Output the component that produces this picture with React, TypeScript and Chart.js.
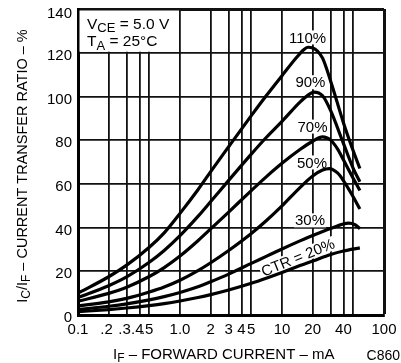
import React, { useEffect, useRef } from "react";
import { Chart, registerables } from "chart.js";

Chart.register(...registerables);

const FONT = '"Liberation Sans", Arial, Helvetica, sans-serif';

// Forward-current grid lines (mA) and the printed tick labels
const xGridValues = [0.1, 0.2, 0.3, 0.4, 0.5, 1, 2, 3, 4, 5, 10, 20, 30, 40, 50, 100];
const xTickValues = [0.1, 0.2, 0.3, 0.4, 0.5, 1, 2, 3, 4, 5, 10, 20, 40, 100];
const xTickLabels = ["0.1", ".2", ".3", ".4", ".5", "1.0", "2", "3", "4", "5", "10", "20", "40", "100"];
const yTickValues = [0, 20, 40, 60, 80, 100, 120, 140];

// Current transfer ratio (%) versus forward current (mA), one curve per CTR rank
const ctr110Current = [0.1, 0.2, 0.3, 0.5, 0.7, 1, 1.5, 2, 3, 5, 7, 10, 14, 16, 18, 20, 22, 25, 30, 40, 50, 58];
const ctr110Ratio = [10, 17.5, 22.8, 31, 37.6, 46.5, 57.3, 65.6, 77, 91.2, 100.3, 109.5, 118, 121, 122.5, 122.2, 121, 117.5, 107, 88, 75, 67];

const ctr90Current = [0.1, 0.2, 0.3, 0.5, 0.7, 1, 1.5, 2, 3, 5, 7, 10, 15, 18, 20.5, 25, 30, 40, 50, 58];
const ctr90Ratio = [8, 13.4, 17.4, 24.1, 29.5, 36.3, 45.1, 51.9, 61.6, 73.6, 81.2, 88.6, 97.4, 100.6, 102, 100.3, 93.5, 78.5, 67, 61];

const ctr70Current = [0.1, 0.2, 0.3, 0.5, 0.7, 1, 1.5, 2, 3, 5, 7, 10, 15, 20, 25, 30, 35, 40, 50, 58];
const ctr70Ratio = [6.3, 9.9, 12.7, 17.6, 21.7, 27, 34, 39.4, 47.1, 56.9, 63.2, 69.4, 75.7, 79.5, 81.5, 80, 76, 71, 62.5, 57];

const ctr50Current = [0.1, 0.2, 0.3, 0.5, 0.7, 1, 1.5, 2, 3, 5, 7, 10, 15, 20, 25, 29, 35, 40, 50, 58];
const ctr50Ratio = [4.2, 6, 7.6, 10.5, 12.8, 15.9, 20.3, 23.9, 29.5, 37.3, 43.1, 49.9, 58.3, 63.6, 66.3, 67, 65, 61.5, 54, 48.5];

const ctr30Current = [0.1, 0.2, 0.3, 0.5, 0.7, 1, 1.5, 2, 3, 5, 7, 10, 15, 20, 30, 45, 52, 58];
const ctr30Ratio = [2.5, 4, 5.1, 6.9, 8.4, 10.3, 12.9, 15.2, 18.7, 23.6, 26.8, 30.2, 33.9, 36.4, 39.6, 42, 41.3, 39.5];

const ctr20Current = [0.1, 0.2, 0.3, 0.5, 0.7, 1, 1.5, 2, 3, 5, 7, 10, 15, 20, 30, 40, 58];
const ctr20Ratio = [1.5, 2.5, 3.2, 4.3, 5.2, 6.4, 8, 9.3, 11.4, 14.5, 16.8, 19.4, 22.6, 24.7, 27.7, 29.3, 30.7];

// Curve captions and where they sit (mA, %)
const curveNames = ["110%", "90%", "70%", "50%", "30%", "CTR = 20%"];
const captionCurrent = [17.8, 19, 19.9, 19.7, 18.8, 14.3];
const captionRatio = [127, 106.5, 86.2, 69.8, 43.3, 26.4];
const captionAngle = [0, 0, 0, 0, 0, -22];

type Part = { t: string; sub?: boolean };

function partsWidth(ctx: CanvasRenderingContext2D, parts: Part[], size: number, subSize: number) {
  let w = 0;
  for (const p of parts) {
    ctx.font = `${p.sub ? subSize : size}px ${FONT}`;
    w += ctx.measureText(p.t).width;
  }
  return w;
}

function drawParts(
  ctx: CanvasRenderingContext2D,
  parts: Part[],
  x: number,
  y: number,
  size: number,
  subSize: number,
  subDy: number
) {
  ctx.textAlign = "left";
  ctx.textBaseline = "alphabetic";
  let cx = x;
  for (const p of parts) {
    ctx.font = `${p.sub ? subSize : size}px ${FONT}`;
    ctx.fillText(p.t, cx, y + (p.sub ? subDy : 0));
    cx += ctx.measureText(p.t).width;
  }
}

const annotations = {
  id: "annotations",
  beforeDatasetsDraw(chart: any) {
    const ctx: CanvasRenderingContext2D = chart.ctx;
    const { left, top } = chart.chartArea;
    const xs = chart.scales.x;
    const ys = chart.scales.y;
    ctx.save();

    // Test-conditions box in the upper-left cell
    const bx = xs.getPixelForValue(1);
    const by = ys.getPixelForValue(120);
    ctx.fillStyle = "#fff";
    ctx.fillRect(left + 1.5, top + 1.5, bx - left - 2.5, by - top - 2.5);
    ctx.fillStyle = "#000";
    drawParts(ctx, [{ t: "V" }, { t: "CE", sub: true }, { t: " = 5.0 V" }], left + 9, top + 20, 15.5, 13, 3);
    drawParts(ctx, [{ t: "T" }, { t: "A", sub: true }, { t: " = 25°C" }], left + 9, top + 37, 15.5, 13, 4);

    // Curve captions on white patches
    ctx.font = `15px ${FONT}`;
    ctx.textAlign = "center";
    ctx.textBaseline = "middle";
    curveNames.forEach((name, i) => {
      const px = xs.getPixelForValue(captionCurrent[i]);
      const py = ys.getPixelForValue(captionRatio[i]);
      const w = ctx.measureText(name).width;
      ctx.save();
      ctx.translate(px, py);
      ctx.rotate((captionAngle[i] * Math.PI) / 180);
      ctx.fillStyle = "#fff";
      ctx.fillRect(-w / 2 - 1, -7, w + 2, 14);
      ctx.fillStyle = "#000";
      ctx.fillText(name, 0, 1);
      ctx.restore();
    });
    ctx.restore();
  },
  afterDraw(chart: any) {
    const ctx: CanvasRenderingContext2D = chart.ctx;
    const { left, bottom } = chart.chartArea;
    const xs = chart.scales.x;
    const ys = chart.scales.y;
    ctx.save();
    ctx.fillStyle = "#000";
    ctx.font = `15px ${FONT}`;

    // Y tick labels
    ctx.textAlign = "right";
    ctx.textBaseline = "middle";
    yTickValues.forEach((v) => {
      const py = ys.getPixelForValue(v);
      ctx.fillText(String(v), left - 6, Math.max(py + 3, 14));
    });

    // X tick labels: a leading point hangs to the left of its grid line
    ctx.textBaseline = "middle";
    xTickValues.forEach((v, i) => {
      const label = xTickLabels[i];
      const px = xs.getPixelForValue(v);
      if (label.startsWith(".")) {
        const dot = ctx.measureText(".").width;
        const digit = ctx.measureText(label.slice(1)).width;
        ctx.textAlign = "left";
        ctx.fillText(label, px - dot - digit / 2, bottom + 15);
      } else {
        ctx.textAlign = "center";
        ctx.fillText(label, px, bottom + 15);
      }
    });

    // X axis title
    const xTitle: Part[] = [{ t: "I" }, { t: "F", sub: true }, { t: " – FORWARD CURRENT – mA" }];
    drawParts(ctx, xTitle, 113, 359, 15, 12, 3);

    // Drawing code
    ctx.font = `14px ${FONT}`;
    ctx.textAlign = "right";
    ctx.textBaseline = "alphabetic";
    ctx.fillText("C860", 400, 360);

    // Y axis title, rotated
    const yTitle: Part[] = [
      { t: "I" },
      { t: "C", sub: true },
      { t: "/I" },
      { t: "F", sub: true },
      { t: " – CURRENT TRANSFER RATIO – %" },
    ];
    const w = partsWidth(ctx, yTitle, 14.5, 12);
    ctx.translate(27, 166);
    ctx.rotate(-Math.PI / 2);
    drawParts(ctx, yTitle, -w / 2, 0, 14.5, 12, 3);
    ctx.restore();
  },
};

function series(current: number[], ratio: number[]) {
  return current.map((x, i) => ({ x, y: ratio[i] }));
}

export default function App() {
  const canvasRef = useRef<HTMLCanvasElement | null>(null);

  useEffect(() => {
    const canvas = canvasRef.current;
    if (!canvas) return;
    const curve = (current: number[], ratio: number[]) => ({
      data: series(current, ratio),
      borderColor: "#000",
      borderWidth: 3.2,
      pointRadius: 0,
      fill: false,
      cubicInterpolationMode: "monotone" as const,
    });
    const chart = new Chart(canvas, {
      type: "line",
      data: {
        datasets: [
          curve(ctr110Current, ctr110Ratio),
          curve(ctr90Current, ctr90Ratio),
          curve(ctr70Current, ctr70Ratio),
          curve(ctr50Current, ctr50Ratio),
          curve(ctr30Current, ctr30Ratio),
          curve(ctr20Current, ctr20Ratio),
        ],
      },
      options: {
        animation: false,
        responsive: false,
        maintainAspectRatio: false,
        layout: { padding: { left: 78, top: 9, right: 17, bottom: 48 } },
        plugins: { legend: { display: false }, tooltip: { enabled: false } },
        scales: {
          x: {
            type: "logarithmic",
            min: 0.1,
            max: 100,
            afterBuildTicks: (scale: any) => {
              scale.ticks = xGridValues.map((value) => ({ value }));
            },
            ticks: { display: false },
            grid: {
              color: "#111",
              lineWidth: (c: any) => (c.tick && c.tick.value === 100 ? 3 : 1.8),
              drawTicks: false,
            },
            border: { color: "#000", width: 3 },
          },
          y: {
            type: "linear",
            min: 0,
            max: 140,
            ticks: { display: false, stepSize: 20 },
            grid: {
              color: "#111",
              lineWidth: (c: any) => (c.tick && c.tick.value === 140 ? 3 : 1.8),
              drawTicks: false,
            },
            border: { color: "#000", width: 3 },
          },
        },
      },
      plugins: [annotations],
    });
    return () => chart.destroy();
  }, []);

  return (
    <div style={{ position: "fixed", left: 0, top: 0, width: 401, height: 363, background: "#fff" }}>
      <canvas ref={canvasRef} width={401} height={363} style={{ width: 401, height: 363, display: "block" }} />
    </div>
  );
}
